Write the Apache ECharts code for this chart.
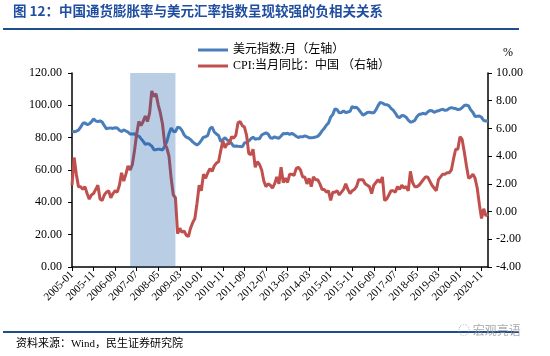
<!DOCTYPE html>
<html><head><meta charset="utf-8">
<script src="https://cdn.jsdelivr.net/npm/echarts@6/dist/echarts.min.js"></script>
<style>html,body{margin:0;padding:0;background:#fff}#c{width:550px;height:356px}</style>
</head><body><div id="c"></div>
<script>
// Monthly categories 2005-01 .. 2021-02
const startYear = 2005, endYear = 2021, endMonth = 2;
const months = [];
for (let y = startYear; y <= endYear; y++) {
  for (let m = 1; m <= 12; m++) {
    if (y === endYear && m > endMonth) break;
    months.push(y + '-' + (m < 10 ? '0' + m : m));
  }
}
// US dollar index, monthly (left axis)
const usdIndex = [
  83.8,83.6,84.0,84.6,86.5,88.8,89.2,88.0,88.6,89.8,91.6,90.4,
  89.9,90.4,89.6,87.4,85.5,85.9,86.0,85.7,86.2,86.0,84.6,83.8,
  84.8,84.1,83.4,82.2,82.3,82.4,80.8,81.1,79.4,77.8,75.8,76.3,
  75.9,74.8,72.6,72.6,72.9,72.8,72.3,74.7,77.6,82.5,86.0,84.0,
  83.6,86.5,86.2,84.5,81.8,80.3,79.8,78.8,77.4,76.3,75.5,76.5,
  78.3,80.3,80.6,81.4,85.6,86.6,83.5,82.3,81.3,77.6,78.8,80.0,
  78.6,77.7,76.5,74.6,74.9,74.7,74.6,74.3,76.7,77.1,77.9,79.3,
  80.3,79.0,79.4,79.4,81.6,82.4,83.0,82.2,79.9,79.6,80.5,79.9,
  79.6,81.0,82.6,82.4,82.7,82.0,82.7,81.9,80.9,80.1,80.6,80.5,
  81.1,80.6,80.0,79.9,80.1,80.4,80.8,82.2,84.2,85.7,87.7,89.1,
  92.7,94.3,97.8,97.3,95.4,95.6,96.6,95.5,95.9,96.3,99.3,98.5,
  98.8,97.4,95.6,93.9,94.7,95.6,95.8,95.4,95.4,97.2,99.8,101.8,
  101.4,100.6,100.4,99.8,98.1,97.0,95.2,93.0,92.4,93.7,93.6,92.7,
  90.8,89.7,89.9,90.6,92.9,94.3,94.6,95.1,94.5,95.9,96.8,96.6,
  95.7,96.3,96.6,97.2,97.6,96.9,97.1,98.1,98.6,98.2,98.0,97.4,
  97.6,98.6,99.9,100.2,99.6,97.2,95.6,93.1,93.3,93.4,92.6,90.6,
  90.3,90.5
];
// China CPI, year-on-year % (right axis)
const cpiYoY = [
  1.9,3.9,2.7,1.8,1.8,1.6,1.8,1.3,0.9,1.2,1.3,1.6,
  1.9,0.9,0.8,1.2,1.4,1.5,1.0,1.3,1.5,1.4,1.9,2.8,
  2.2,2.7,3.3,3.0,3.4,4.4,5.6,6.5,6.2,6.5,6.9,6.5,
  7.1,8.7,8.3,8.5,7.7,7.1,6.3,4.9,4.6,4.0,2.4,1.2,
  1.0,-1.6,-1.2,-1.5,-1.4,-1.7,-1.8,-1.2,-0.8,-0.5,0.6,1.9,
  1.5,2.7,2.4,2.8,3.1,2.9,3.3,3.5,3.6,4.4,5.1,4.6,
  4.9,4.9,5.4,5.3,5.5,6.4,6.5,6.2,6.1,5.5,4.2,4.1,
  4.5,3.2,3.6,3.4,3.0,2.2,1.8,2.0,1.9,1.7,2.0,2.5,
  2.0,3.2,2.1,2.4,2.1,2.7,2.7,2.6,3.1,3.2,3.0,2.5,
  2.5,2.0,2.4,1.8,2.5,2.3,2.3,2.0,1.6,1.6,1.4,1.5,
  0.8,1.4,1.4,1.5,1.2,1.4,1.6,2.0,1.6,1.3,1.5,1.6,
  1.8,2.3,2.3,2.3,2.0,1.9,1.8,1.3,1.9,2.1,2.3,2.1,
  2.5,0.8,0.9,1.2,1.5,1.5,1.4,1.8,1.6,1.9,1.7,1.8,
  1.5,2.9,2.1,1.8,1.8,1.9,2.1,2.3,2.5,2.5,2.2,1.9,
  1.7,1.5,2.3,2.5,2.7,2.7,2.8,2.8,3.0,3.8,4.5,4.5,
  5.4,5.2,4.3,3.3,2.4,2.5,2.7,2.4,1.7,0.5,-0.5,0.2,
  -0.3,-0.2
];
const leftTicks = { min: 0, max: 120, interval: 20 };
const rightTicks = { min: -4, max: 10, interval: 2 };
const shadeRange = ['2007-04', '2009-01'];
const usdName = '美元指数:月（左轴）';
const cpiName = 'CPI:当月同比：中国 （右轴）';

const serif = "'Liberation Serif','Times New Roman','Noto Sans CJK SC',serif";
const chart = echarts.init(document.getElementById('c'), null, { renderer: 'canvas' });
chart.setOption({
  animation: false,
  backgroundColor: '#fff',
  grid: { left: 72, right: 62, top: 73, bottom: 89, containLabel: false },
  legend: [
    { data: [usdName], left: 193, top: 39, orient: 'vertical', itemWidth: 30, itemHeight: 3, icon: 'rect', itemGap: 4,
      textStyle: { fontFamily: serif, fontSize: 12, color: '#000' } },
    { data: [cpiName], left: 193, top: 55, orient: 'vertical', itemWidth: 30, itemHeight: 3, icon: 'rect', itemGap: 4,
      textStyle: { fontFamily: serif, fontSize: 12, color: '#000' } }
  ],
  xAxis: {
    type: 'category', data: months, boundaryGap: false,
    axisLine: { lineStyle: { color: '#000', width: 1.5 } },
    axisTick: { interval: 9, length: 4, lineStyle: { color: '#000' } },
    axisLabel: { interval: 9, rotate: 45, fontFamily: serif, fontSize: 11, color: '#000', margin: 6 },
    splitLine: { show: false }
  },
  yAxis: [
    { type: 'value', min: leftTicks.min, max: leftTicks.max, interval: leftTicks.interval,
      axisLine: { show: true, lineStyle: { color: '#000', width: 1.5 } },
      axisTick: { show: true, length: 4, lineStyle: { color: '#000' } },
      axisLabel: { formatter: v => v.toFixed(2), fontFamily: serif, fontSize: 12, color: '#000', margin: 10 },
      splitLine: { show: false } },
    { type: 'value', min: rightTicks.min, max: rightTicks.max, interval: rightTicks.interval, position: 'right',
      axisLine: { show: true, lineStyle: { color: '#000', width: 1.5 } },
      axisTick: { show: true, length: 4, lineStyle: { color: '#000' } },
      axisLabel: { formatter: v => v.toFixed(2), fontFamily: serif, fontSize: 12, color: '#000', margin: 8 },
      splitLine: { show: false } }
  ],
  series: [
    { name: usdName, type: 'line', yAxisIndex: 0, data: usdIndex, showSymbol: false, symbol: 'none',
      lineStyle: { color: '#4a7ebb', width: 3 }, itemStyle: { color: '#4a7ebb' }, z: 2 },
    { name: cpiName, type: 'line', yAxisIndex: 1, data: cpiYoY, showSymbol: false, symbol: 'none',
      lineStyle: { color: '#c0504d', width: 3 }, itemStyle: { color: '#c0504d' }, z: 3 },
    { name: 'shade', type: 'line', yAxisIndex: 0, data: [], z: 10, silent: true,
      markArea: { silent: true, z: 10, itemStyle: { color: 'rgba(22,88,168,0.3)' },
        data: [[{ xAxis: shadeRange[0] }, { xAxis: shadeRange[1] }]] } }
  ],
  graphic: [
    { type: 'text', left: 13, top: 4, style: { text: '图 12：中国通货膨胀率与美元汇率指数呈现较强的负相关关系',
      font: "bold 13.5px 'Noto Sans CJK SC', sans-serif", fill: '#1f4ea1' } },
    { type: 'rect', shape: { x: 3, y: 28, width: 516, height: 2 }, style: { fill: '#1f4e8c' } },
    { type: 'text', left: 503, top: 47, style: { text: '%', font: "12px 'Liberation Serif', serif", fill: '#000' } },
    { type: 'rect', shape: { x: 3, y: 331, width: 516, height: 2 }, style: { fill: '#1f4e8c' } },
    { type: 'text', left: 16, top: 339, style: { text: '资料来源：Wind，民生证券研究院',
      font: "11px 'Liberation Serif', 'Noto Sans CJK SC', serif", fill: '#000' } },
    { type: 'text', left: 458, top: 324, style: { text: '◌ 宏观亮语', font: "12px 'Noto Sans CJK SC', sans-serif", fill: 'rgba(150,150,150,0.8)' } }
  ]
});
</script></body></html>
